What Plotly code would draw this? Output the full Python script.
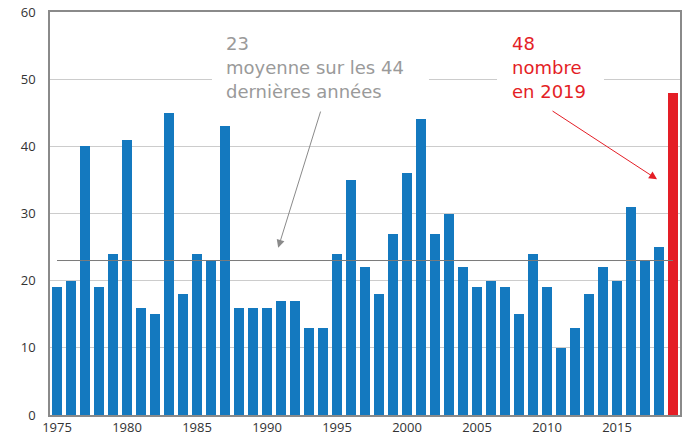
import plotly.graph_objects as go

years = list(range(1975, 2020))
values = [19, 20, 40, 19, 24, 41, 16, 15, 45, 18,
          24, 23, 43, 16, 16, 16, 17, 17, 13, 13,
          24, 35, 22, 18, 27, 36, 44, 27, 30, 22,
          19, 20, 19, 15, 24, 19, 10, 13, 18, 22,
          20, 31, 23, 25, 48]
average = 23
highlight_year = 2019
x_tick_vals = list(range(1975, 2020, 5))
y_tick_vals = list(range(0, 61, 10))
avg_lines = [f"{average}", "moyenne sur les 44", "dernières années"]
red_lines = [f"{values[-1]}", "nombre", f"en {highlight_year}"]

BLUE = "#1479bf"
RED = "#e41e26"
GREY_TXT = "#9a9a9a"
FONT = "Open Sans"
ANN_FONT = "DejaVu Sans"

colors = [RED if y == highlight_year else BLUE for y in years]

fig = go.Figure()
fig.add_trace(go.Bar(x=years, y=values, marker=dict(color=colors, line=dict(width=0)),
                     width=0.72, hoverinfo="x+y"))
fig.add_trace(go.Scatter(x=[years[0], years[-1]], y=[average, average], mode="lines",
                         line=dict(color="#7a7a7a", width=1), hoverinfo="skip"))

shapes = [
    dict(type="rect", xref="x", yref="y", x0=1986.07, x1=2001.57, y0=49, y1=51,
         fillcolor="white", line=dict(width=0), layer="between"),
    dict(type="rect", xref="x", yref="y", x0=2006.43, x1=2014.07, y0=49, y1=51,
         fillcolor="white", line=dict(width=0), layer="between"),
]

line_y = [55.3, 51.75, 48.2]
annotations = []
for txt, yy in zip(avg_lines, line_y):
    annotations.append(dict(x=1987.0, y=yy, xref="x", yref="y", xanchor="left",
                            yanchor="middle", align="left", text=txt, showarrow=False,
                            borderpad=0, font=dict(family=ANN_FONT, size=18, color=GREY_TXT)))
for txt, yy in zip(red_lines, line_y):
    annotations.append(dict(x=2007.4, y=yy, xref="x", yref="y", xanchor="left",
                            yanchor="middle", align="left", text=txt, showarrow=False,
                            borderpad=0, font=dict(family=ANN_FONT, size=18, color=RED)))
annotations += [
    dict(x=1990.8, y=24.9, ax=1993.86, ay=45.4, xref="x", yref="y", axref="x", ayref="y",
         text="", showarrow=True, arrowhead=2, arrowsize=1.6, arrowwidth=1, arrowcolor="#8a8a8a"),
    dict(x=2017.86, y=35.1, ax=2010.29, ay=45.4, xref="x", yref="y", axref="x", ayref="y",
         text="", showarrow=True, arrowhead=2, arrowsize=1.6, arrowwidth=1, arrowcolor=RED),
]

fig.update_layout(
    width=685, height=438,
    margin=dict(l=50, r=5, t=12, b=23, autoexpand=False),
    paper_bgcolor="white", plot_bgcolor="white",
    showlegend=False, bargap=0,
    font=dict(family=FONT, size=13, color="#333333"),
    shapes=shapes, annotations=annotations,
    xaxis=dict(range=[1974.5, 2019.5], tickvals=x_tick_vals, showgrid=False,
               showline=True, linecolor="#8a8a8a", linewidth=1.5, mirror=True, automargin=False,
               ticks="", tickfont=dict(size=13, color="#333333"), zeroline=False),
    yaxis=dict(range=[0, 60], tickvals=y_tick_vals, showgrid=True, gridcolor="#cccccc",
               gridwidth=1.2, showline=True, linecolor="#8a8a8a", linewidth=1.5, mirror=True,
               automargin=False, ticks="", ticklabelstandoff=10,
               tickfont=dict(size=13, color="#333333"), zeroline=False),
)

fig.write_html("out.html", config={"displayModeBar": False},
               post_script="document.body.style.margin='0';document.body.style.overflow='hidden';")
